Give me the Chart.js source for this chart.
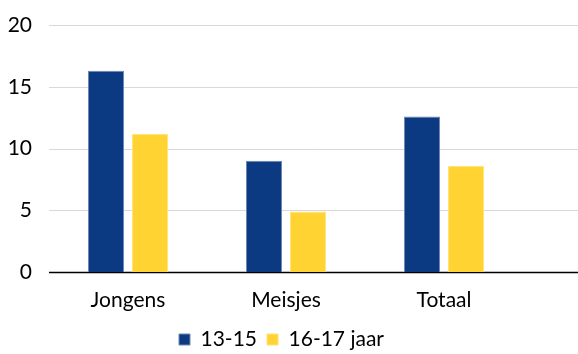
<!DOCTYPE html>
<html>
<head>
<meta charset="utf-8">
<script src="https://cdn.jsdelivr.net/npm/chart.js@4/dist/chart.umd.min.js"></script>
<style>
  html, body { margin: 0; padding: 0; background: #fff; }
  #wrap { width: 578px; height: 354px; }
</style>
</head>
<body>
<div id="wrap"><canvas id="myChart" width="578" height="354"></canvas></div>
<script>
// data
const categories = ['Jongens', 'Meisjes', 'Totaal'];
const groep1 = [16.3, 9.0, 12.6];   // 13-15
const groep2 = [11.2, 4.9, 8.6];    // 16-17 jaar
const yTicks = [0, 5, 10, 15, 20];

const blauw = '#0b3a82';
const geel = '#ffd331';

let legendaDx = 20;
let legendaDy = 6;

// gridlines lopen door tot de rechterrand van het plaatje
const gridPlugin = {
  id: 'fullGrid',
  afterLayout(chart) {
    // legenda verschuiven
    chart.legend.left += legendaDx;
    chart.legend.right += legendaDx;
    chart.legend.top += legendaDy;
    chart.legend.bottom += legendaDy;
  },
  beforeDatasetsDraw(chart) {
    const c = chart.ctx;
    const y = chart.scales.y;
    const left = chart.chartArea.left;
    const right = chart.width;
    c.save();
    yTicks.forEach(v => {
      const py = Math.round(y.getPixelForValue(v)) + 0.5;
      c.beginPath();
      c.moveTo(left, py);
      c.lineTo(right, py);
      c.lineWidth = v === 0 ? 1.5 : 1;
      c.strokeStyle = v === 0 ? '#000' : '#d9d9d9';
      c.stroke();
    });
    c.restore();
  }
};

const ctx = document.getElementById('myChart').getContext('2d');
const myChart = new Chart(ctx, {
  type: 'bar',
  data: {
    labels: categories,
    datasets: [{
      label: '13-15',
      data: groep1,
      backgroundColor: blauw,
      borderColor: '#6f86b0',
      borderWidth: 1
    }, {
      label: '16-17 jaar',
      data: groep2,
      backgroundColor: geel,
      borderColor: '#ffe27a',
      borderWidth: 1
    }]
  },
  options: {
    responsive: false,
    animation: false,
    categoryPercentage: 0.557,
    barPercentage: 0.82,
    layout: { padding: { left: 0, right: 55, top: 0, bottom: 0 } },
    scales: {
      x: {
        grid: { display: false, drawTicks: false },
        border: { display: false },
        afterFit: axis => { axis.height = 41; },
        ticks: { color: '#000', font: { family: 'Lato', size: 21 }, padding: 16 }
      },
      y: {
        min: 0,
        max: 20,
        grid: { display: false, drawTicks: false },
        border: { display: false },
        afterBuildTicks: axis => { axis.ticks = yTicks.map(v => ({ value: v })); },
        afterFit: axis => { axis.width = 49; axis.paddingTop = 25; axis.paddingBottom = 0; },
        ticks: { color: '#000', font: { family: 'Lato', size: 21 }, padding: 17 }
      }
    },
    plugins: {
      legend: {
        position: 'bottom',
        labels: {
          color: '#000',
          font: { family: 'Lato', size: 21, lineHeight: 1.0 },
          boxWidth: 11,
          boxHeight: 11,
          padding: 10
        }
      },
      tooltip: { enabled: false }
    }
  },
  plugins: [gridPlugin]
});
</script>
</body>
</html>
